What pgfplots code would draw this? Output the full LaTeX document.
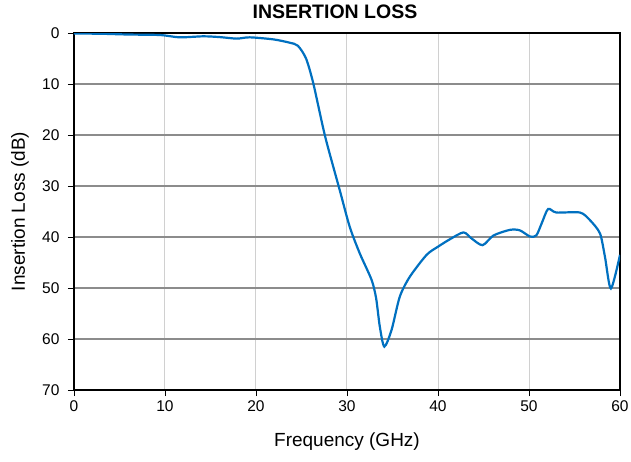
\documentclass[border=0pt]{standalone}
\usepackage{pgfplots}
\pgfplotsset{compat=1.18}
\usepackage{fontspec}
\setmainfont{Liberation Sans}
\definecolor{curve}{HTML}{0070C0}
\definecolor{hgrid}{HTML}{8C8C8C}
\definecolor{vgrid}{HTML}{D0D0D0}

\begin{document}
\begin{tikzpicture}
\begin{axis}[
    scale only axis,
    width=546pt, height=357pt,
    xmin=0, xmax=60,
    ymin=0, ymax=70,
    y dir=reverse,
    xtick={0,10,20,30,40,50,60},
    ytick={0,10,20,30,40,50,60,70},
    tick pos=left,
    tick align=outside,
    major tick length=6pt,
    tick style={black, line width=0.8pt},
    axis line style={black, line width=1.8pt},
    xmajorgrids=true, ymajorgrids=true,
    x grid style={vgrid, line width=1pt},
    y grid style={hgrid, line width=1.3pt},
    /pgf/number format/assume math mode=true,
    ticklabel style={font=\fontsize{15.5}{18}\selectfont},
    xticklabel style={yshift=-1pt},
    yticklabel style={xshift=-5pt},
    label style={font=\fontsize{19}{22}\selectfont},
    xlabel={Frequency (GHz)},
    ylabel={Insertion Loss (dB)},
    xlabel style={at={(axis description cs:0.5,-0.145)}, anchor=center},
    ylabel style={at={(axis description cs:-0.099,0.5)}, anchor=center},
    title={INSERTION LOSS},
    title style={font=\bfseries\fontsize{19.5}{22}\selectfont, at={(axis description cs:0.478,1)}, anchor=south, yshift=5pt},
]
\addplot[curve, line width=2.2pt, smooth, tension=0.45] coordinates {
    (0,0.1)(3,0.15)(6,0.3)(9.5,0.4)(11.6,0.85)(14.2,0.65)(16,0.8)
    (17.9,1.1)(19.3,0.85)(21.9,1.25)(23.7,1.9)(24.6,2.5)(25.5,5)
    (26.3,9.9)(27.6,20.3)(29.2,30.8)(30.3,38)(31.4,43.2)(32.7,48.4)
    (33.2,52)(33.6,57.5)(34.1,61.5)(34.9,58.2)(35.8,51.7)(36.9,47.8)
    (38.75,43.5)(40,41.9)(41.3,40.45)(42.8,39.1)(43.7,40.3)(44.9,41.6)
    (46.1,39.7)(47.9,38.6)(49,38.7)(50.1,39.9)(50.8,39.7)(51.4,37.3)
    (52.1,34.5)(53,35.2)(55.6,35.2)(56.7,36.7)(57.8,39.3)(58.35,43.9)
    (59,50.1)(60,43.5)
};
\end{axis}
\pgfresetboundingbox
\path[use as bounding box] (-74pt,-72pt) rectangle (557pt,390pt);
\end{tikzpicture}
\end{document}
